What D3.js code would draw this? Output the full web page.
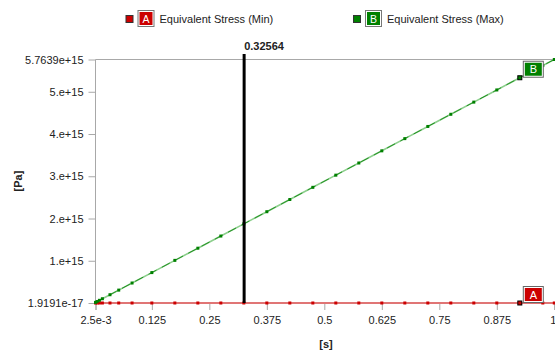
<!DOCTYPE html>
<html><head><meta charset="utf-8">
<script src="https://cdn.jsdelivr.net/npm/d3@7"></script>
<style>body{margin:0;background:#fff;} svg{display:block;font-family:"Liberation Sans",Arial,sans-serif;}</style>
</head><body>
<div id="chart"></div>
<script>
// Data
const times = [0.0025,0.006,0.011,0.0175,0.034,0.053,0.082,0.125,0.175,0.225,0.275,0.325,0.375,0.425,0.475,0.525,0.575,0.625,0.675,0.725,0.775,0.825,0.875,0.925,0.975,1.0];
const stressMax = [0.0144e15,0.0346e15,0.0634e15,0.1009e15,0.196e15,0.305e15,0.473e15,0.720e15,1.009e15,1.297e15,1.585e15,1.873e15,2.161e15,2.450e15,2.738e15,3.026e15,3.314e15,3.602e15,3.891e15,4.179e15,4.467e15,4.755e15,5.043e15,5.332e15,5.620e15,5.7639e15];
const stressMin = [1.9191e-17,1.9191e-17,1.9191e-17,1.9191e-17,1.9191e-17,1.9191e-17,1.9191e-17,1.9191e-17,1.9191e-17,1.9191e-17,1.9191e-17,1.9191e-17,1.9191e-17,1.9191e-17,1.9191e-17,1.9191e-17,1.9191e-17,1.9191e-17,1.9191e-17,1.9191e-17,1.9191e-17,1.9191e-17,1.9191e-17,1.9191e-17,1.9191e-17,1.9191e-17];
const seriesNames = ["Equivalent Stress (Min)","Equivalent Stress (Max)"];
const seriesLetters = ["A","B"];
const xTicks = [0.0025,0.125,0.25,0.375,0.5,0.625,0.75,0.875,1.0];
const xTickLabels = ["2.5e-3","0.125","0.25","0.375","0.5","0.625","0.75","0.875","1."];
const yTicks = [1.9191e-17,1e15,2e15,3e15,4e15,5e15,5.7639e15];
const yTickLabels = ["1.9191e-17","1.e+15","2.e+15","3.e+15","4.e+15","5.e+15","5.7639e+15"];
const cursorTime = 0.32564;
const labelIndex = 23;

const W=555,H=352;
const svg=d3.select("#chart").append("svg").attr("width",W).attr("height",H);
const x=d3.scaleLinear().domain([0.0025,1.0]).range([95.5,554.3]);
const y=d3.scaleLinear().domain([1.9191e-17,5.7639e15]).range([303,59.5]);
const grey="#a8a8a8";

// top border
svg.append("line").attr("x1",95.5).attr("x2",W).attr("y1",59.5).attr("y2",59.5).attr("stroke",grey);
// y axis
const ya=svg.append("g").attr("transform","translate(95.5,0)")
 .call(d3.axisLeft(y).tickValues(yTicks).tickFormat((d,i)=>yTickLabels[i]).tickSize(7).tickPadding(5));
ya.select(".domain").attr("stroke",grey).attr("d","M0,59.5V303");
ya.selectAll(".tick line").attr("stroke",grey);
ya.selectAll(".tick text").attr("fill","#222").style("font-size","11px").style("font-family","Liberation Sans, Arial");
// x axis
const xa=svg.append("g").attr("transform","translate(0,303)")
 .call(d3.axisBottom(x).tickValues(xTicks).tickFormat((d,i)=>xTickLabels[i]).tickSize(7).tickPadding(6));
xa.select(".domain").attr("stroke",grey);
xa.selectAll(".tick line").attr("stroke",grey);
xa.selectAll(".tick text").attr("fill","#222").style("font-size","11px").style("font-family","Liberation Sans, Arial");

// axis titles
svg.append("text").attr("transform","translate(22,181) rotate(-90)").attr("text-anchor","middle")
 .style("font-weight","bold").style("font-size","11px").attr("fill","#222").text("[Pa]");
svg.append("text").attr("x",326).attr("y",348).attr("text-anchor","middle")
 .style("font-weight","bold").style("font-size","11px").attr("fill","#222").text("[s]");

// lines
const minPts=times.map((t,i)=>[t,stressMin[i]]);
const maxPts=times.map((t,i)=>[t,stressMax[i]]);
const lg=d3.line().x(d=>x(d[0])).y(d=>y(d[1]));
svg.append("path").attr("d",lg(minPts)).attr("fill","none").attr("stroke","#e07575").attr("stroke-width",2);
svg.append("path").attr("d",lg(maxPts)).attr("fill","none").attr("stroke","#8ccf8c").attr("stroke-width",1.6);
svg.append("path").attr("d",lg(maxPts)).attr("fill","none").attr("stroke","#1a8a1a").attr("stroke-width",0.9).attr("stroke-dasharray","9,6");

svg.selectAll(".pmin").data(minPts).enter().append("rect")
 .attr("x",d=>x(d[0])-1.5).attr("y",d=>y(d[1])-1.5).attr("width",3).attr("height",3).attr("fill","#cc0000");
svg.selectAll(".pmax").data(maxPts).enter().append("rect")
 .attr("x",d=>x(d[0])-1.5).attr("y",d=>y(d[1])-1.5).attr("width",3).attr("height",3).attr("fill","#008000");

// cursor line
svg.append("line").attr("x1",x(cursorTime)).attr("x2",x(cursorTime)).attr("y1",54).attr("y2",303)
 .attr("stroke","#000").attr("stroke-width",3);
svg.append("text").attr("x",x(cursorTime)).attr("y",50).style("font-weight","bold").style("font-size","11px")
 .attr("fill","#222").text(cursorTime.toString());

// series labels at point
const fills=["#cc0000","#008000"];
[minPts,maxPts].forEach((pts,s)=>{
  const p=pts[labelIndex]; const px=x(p[0]), py=y(p[1]);
  svg.append("rect").attr("x",px-2).attr("y",py-2).attr("width",4).attr("height",4).attr("fill",fills[s]).attr("stroke","#000").attr("stroke-width",1);
  const g=svg.append("g").attr("transform",`translate(${px+3},${py-17})`);
  g.append("rect").attr("x",0.5).attr("y",0.5).attr("width",20).attr("height",16).attr("fill","#fff").attr("stroke","#666");
  g.append("rect").attr("x",2).attr("y",2).attr("width",17).attr("height",13).attr("fill",fills[s]);
  g.append("text").attr("x",10.5).attr("y",12.5).attr("text-anchor","middle").attr("fill","#fff").style("font-size","11px").text(seriesLetters[s]);
});

// legend
const legX=[125.5,353];
seriesNames.forEach((n,s)=>{
  const g=svg.append("g").attr("transform",`translate(${legX[s]},0)`);
  g.append("rect").attr("x",0.5).attr("y",15.5).attr("width",7).attr("height",7).attr("fill",fills[s]).attr("stroke","#333");
  g.append("rect").attr("x",12.5).attr("y",10.5).attr("width",16).attr("height",16).attr("fill","#fff").attr("stroke","#777");
  g.append("rect").attr("x",14).attr("y",12).attr("width",13).attr("height",13).attr("fill",fills[s]);
  g.append("text").attr("x",20.5).attr("y",22.5).attr("text-anchor","middle").attr("fill","#fff").style("font-size","10.5px").text(seriesLetters[s]);
  g.append("text").attr("x",34).attr("y",23).attr("fill","#222").style("font-size","11px").text(n);
});
</script>
</body></html>
